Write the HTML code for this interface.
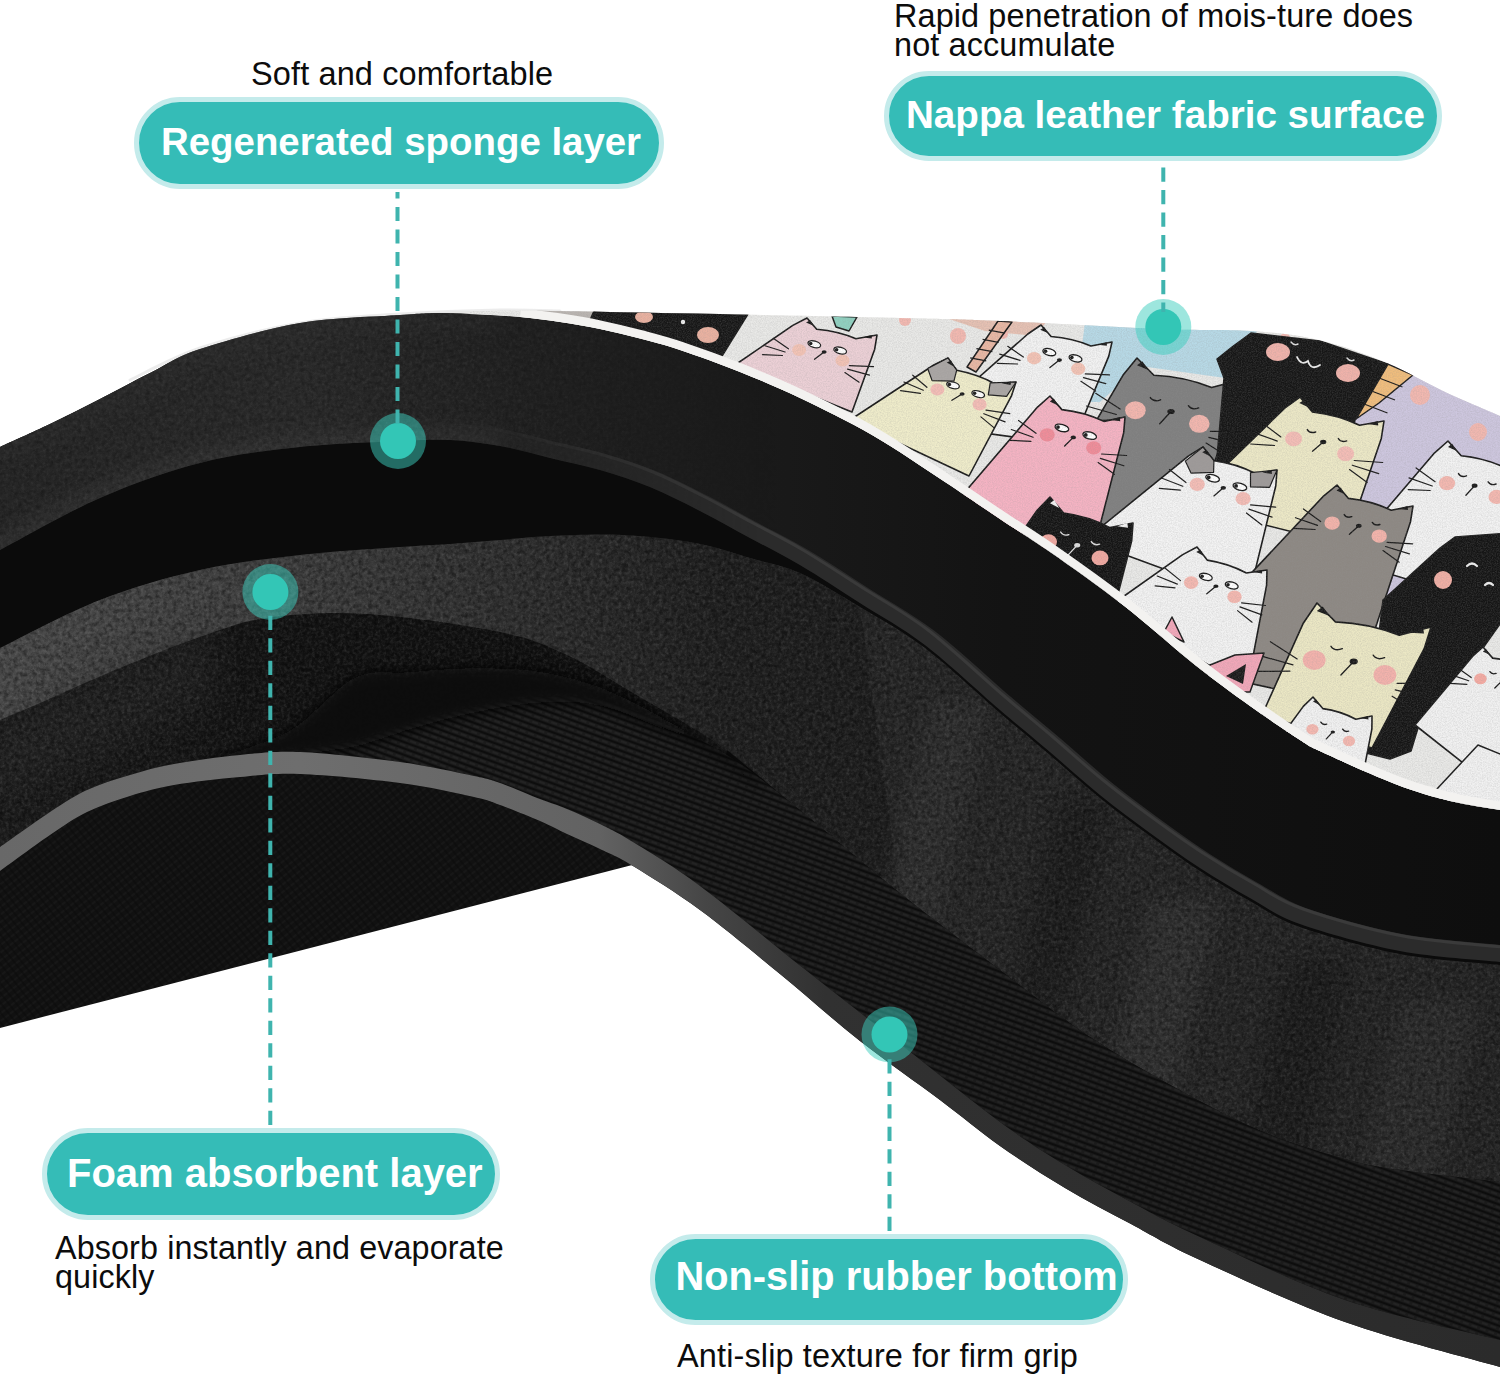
<!DOCTYPE html>
<html lang="en"><head><meta charset="utf-8"><title>Mat layers</title>
<style>
html,body{margin:0;padding:0;background:#fff;}
body{width:1500px;height:1377px;overflow:hidden;position:relative;font-family:"Liberation Sans",sans-serif;}
svg{position:absolute;left:0;top:0;display:block}
.pill{position:absolute;box-sizing:border-box;background:#35bcb7;border:5px solid #c4ebeb;border-radius:60px;color:#fff;font-weight:bold;white-space:nowrap;text-align:center;}
.pill span{position:absolute;left:0;white-space:nowrap}
.cap{position:absolute;color:#0c0c0c;white-space:nowrap;font-size:32.5px;line-height:29px;letter-spacing:0.12px;}
</style></head><body>
<svg width="1500" height="1377" viewBox="0 0 1500 1377">
<defs>

<linearGradient id="gSponge" gradientUnits="userSpaceOnUse" x1="0" y1="0" x2="1500" y2="0">
 <stop offset="0" stop-color="#262626"/><stop offset="0.2" stop-color="#2a2a2a"/><stop offset="0.36" stop-color="#202020"/><stop offset="0.5" stop-color="#1a1a1a"/><stop offset="0.67" stop-color="#131313"/><stop offset="1" stop-color="#0e0e0e"/>
</linearGradient>
<linearGradient id="gFoam" gradientUnits="userSpaceOnUse" x1="0" y1="0" x2="1500" y2="0">
 <stop offset="0" stop-color="#1c1c1c"/><stop offset="0.1" stop-color="#181818"/><stop offset="0.2" stop-color="#131313"/><stop offset="0.43" stop-color="#0f0f0f"/><stop offset="0.5" stop-color="#1f1f1f"/><stop offset="0.6" stop-color="#272727"/><stop offset="1" stop-color="#252525"/>
</linearGradient>
<linearGradient id="gFoamLit" gradientUnits="userSpaceOnUse" x1="0" y1="0" x2="900" y2="0">
 <stop offset="0" stop-color="#4a4a4a"/><stop offset="0.2" stop-color="#444"/><stop offset="0.4" stop-color="#3a3a3a"/><stop offset="0.6" stop-color="#2e2e2e"/><stop offset="0.8" stop-color="#202020"/><stop offset="1" stop-color="#1e1e1e"/>
</linearGradient>
<filter id="fBlur16" x="-30%" y="-30%" width="160%" height="160%"><feGaussianBlur stdDeviation="16"/></filter>
<filter id="fBlur6" x="-10%" y="-30%" width="120%" height="160%"><feGaussianBlur stdDeviation="6"/></filter>
<filter id="fBlur8" x="-20%" y="-20%" width="140%" height="140%"><feGaussianBlur stdDeviation="9"/></filter>
<linearGradient id="gBand" gradientUnits="userSpaceOnUse" x1="0" y1="0" x2="1500" y2="0">
 <stop offset="0" stop-color="#686868"/><stop offset="0.2" stop-color="#6e6e6e"/><stop offset="0.4" stop-color="#626262"/><stop offset="0.47" stop-color="#464646"/><stop offset="0.55" stop-color="#313131"/><stop offset="1" stop-color="#2b2b2b"/>
</linearGradient>
<linearGradient id="gGapFade" gradientUnits="userSpaceOnUse" x1="120" y1="800" x2="330" y2="690">
 <stop offset="0" stop-color="#0c0c0c" stop-opacity="0"/><stop offset="1" stop-color="#0c0c0c" stop-opacity="1"/>
</linearGradient>
<filter id="fFoam" x="0" y="0" width="100%" height="100%" filterUnits="objectBoundingBox">
 <feTurbulence type="fractalNoise" baseFrequency="0.32" numOctaves="3" seed="4" result="n"/>
 <feColorMatrix in="n" type="matrix" values="0 0 0 0 1  0 0 0 0 1  0 0 0 0 1  1.6 0 0 0 -0.62"/>
</filter>
<filter id="fFoamD" x="0" y="0" width="100%" height="100%">
 <feTurbulence type="fractalNoise" baseFrequency="0.22" numOctaves="3" seed="9" result="n"/>
 <feColorMatrix in="n" type="matrix" values="0 0 0 0 0  0 0 0 0 0  0 0 0 0 0  0 1.8 0 0 -0.7"/>
</filter>
<filter id="fGrain" x="0" y="0" width="100%" height="100%">
 <feTurbulence type="fractalNoise" baseFrequency="0.8" numOctaves="2" seed="2" result="n"/>
 <feColorMatrix in="n" type="matrix" values="0 0 0 0 0.3  0 0 0 0 0.3  0 0 0 0 0.3  0 0 0.9 0 -0.3"/>
</filter>
<pattern id="pRib" width="7" height="5" patternUnits="userSpaceOnUse" patternTransform="rotate(-32)">
 <rect width="7" height="5" fill="#1b1b1b"/><path d="M0,1 L7,1" stroke="#060606" stroke-width="1.6"/><path d="M0,3.6 L7,3.6" stroke="#2a2a2a" stroke-width="1"/>
</pattern>
<pattern id="pRib2" width="9" height="6" patternUnits="userSpaceOnUse" patternTransform="rotate(20)">
 <rect width="9" height="6" fill="#1b1b1b"/><path d="M0,1.2 L9,1.2" stroke="#0c0c0c" stroke-width="2"/><path d="M0,4 L6,4" stroke="#282828" stroke-width="1.2"/>
</pattern>
<pattern id="pHatch" width="6" height="6" patternUnits="userSpaceOnUse" patternTransform="rotate(-38)">
 <rect width="6" height="6" fill="#111"/><path d="M0,1 L6,1" stroke="#1b1b1b" stroke-width="1.2"/><path d="M1,0 L1,6" stroke="#0a0a0a" stroke-width="1"/>
</pattern>

<linearGradient id="gFadeR" gradientUnits="userSpaceOnUse" x1="420" y1="0" x2="780" y2="0"><stop offset="0" stop-color="#fff"/><stop offset="1" stop-color="#000"/></linearGradient>
<linearGradient id="gFadeL" gradientUnits="userSpaceOnUse" x1="420" y1="0" x2="760" y2="0"><stop offset="0" stop-color="#000"/><stop offset="1" stop-color="#fff"/></linearGradient>
<mask id="mFadeL" maskUnits="userSpaceOnUse" x="0" y="380" width="1520" height="620"><rect x="0" y="380" width="1520" height="620" fill="url(#gFadeL)"/></mask>
<mask id="mFadeR" maskUnits="userSpaceOnUse" x="0" y="280" width="820" height="320"><rect x="0" y="280" width="820" height="320" fill="url(#gFadeR)"/></mask>
<clipPath id="cpFabric"><path d="M430.0,312.0 C438.3,311.8 458.3,311.2 480.0,311.0 C501.7,310.8 490.0,309.8 560.0,311.0 C630.0,312.2 826.7,316.3 900.0,318.0 C973.3,319.7 956.7,319.2 1000.0,321.0 C1043.3,322.8 1118.2,327.3 1160.0,329.0 C1201.8,330.7 1224.5,329.2 1251.0,331.0 C1277.5,332.8 1296.3,334.7 1319.0,340.0 C1341.7,345.3 1366.3,354.5 1387.0,363.0 C1407.7,371.5 1424.2,382.2 1443.0,391.0 C1461.8,399.8 1488.8,411.0 1500.0,416.0 C1511.2,421.0 1508.3,420.2 1510.0,421.0 L1510.0,811.0 C1508.3,810.8 1510.0,811.7 1500.0,810.0 C1490.0,808.3 1467.5,805.3 1450.0,801.0 C1432.5,796.7 1416.3,792.2 1395.0,784.0 C1373.7,775.8 1337.8,759.3 1322.0,752.0 C1306.2,744.7 1312.0,747.7 1300.0,740.0 C1288.0,732.3 1267.5,718.5 1250.0,706.0 C1232.5,693.5 1216.2,681.8 1195.0,665.0 C1173.8,648.2 1147.2,623.8 1123.0,605.0 C1098.8,586.2 1070.5,566.3 1050.0,552.0 C1029.5,537.7 1017.5,530.7 1000.0,519.0 C982.5,507.3 966.3,496.0 945.0,482.0 C923.7,468.0 896.2,449.0 872.0,435.0 C847.8,421.0 822.0,408.5 800.0,398.0 C778.0,387.5 760.0,380.0 740.0,372.0 C720.0,364.0 696.7,355.6 680.0,350.0 C663.3,344.4 653.3,342.0 640.0,338.5 C626.7,335.0 613.3,331.8 600.0,329.0 C586.7,326.2 573.3,324.0 560.0,322.0 C546.7,320.0 533.3,318.2 520.0,317.0 C506.7,315.8 493.3,315.2 480.0,314.5 C466.7,313.8 446.7,313.2 440.0,313.0 Z"/></clipPath>
<clipPath id="cpFoam"><path d="M-10.0,653.0 C-8.3,652.2 -18.3,656.8 0.0,648.0 C18.3,639.2 66.7,613.0 100.0,600.0 C133.3,587.0 166.7,577.5 200.0,570.0 C233.3,562.5 266.7,558.8 300.0,555.0 C333.3,551.2 375.0,548.8 400.0,547.0 C425.0,545.2 433.3,545.2 450.0,544.0 C466.7,542.8 483.3,541.3 500.0,540.0 C516.7,538.7 529.5,536.8 550.0,536.0 C570.5,535.2 598.8,533.8 623.0,535.0 C647.2,536.2 673.8,539.2 695.0,543.0 C716.2,546.8 732.5,553.0 750.0,558.0 C767.5,563.0 781.7,564.8 800.0,573.0 C818.3,581.2 839.2,594.5 860.0,607.0 C880.8,619.5 901.7,630.3 925.0,648.0 C948.3,665.7 979.2,695.2 1000.0,713.0 C1020.8,730.8 1033.3,740.8 1050.0,755.0 C1066.7,769.2 1083.3,784.5 1100.0,798.0 C1116.7,811.5 1133.3,823.8 1150.0,836.0 C1166.7,848.2 1183.3,860.2 1200.0,871.0 C1216.7,881.8 1233.3,891.7 1250.0,901.0 C1266.7,910.3 1275.0,918.2 1300.0,927.0 C1325.0,935.8 1366.7,947.7 1400.0,954.0 C1433.3,960.3 1481.7,963.0 1500.0,965.0 C1518.3,967.0 1508.3,965.8 1510.0,966.0 L1510.0,966.0 C1508.3,965.8 1518.3,967.0 1500.0,965.0 C1481.7,963.0 1433.3,960.3 1400.0,954.0 C1366.7,947.7 1325.0,935.8 1300.0,927.0 C1275.0,918.2 1266.7,910.3 1250.0,901.0 C1233.3,891.7 1216.7,881.8 1200.0,871.0 C1183.3,860.2 1166.7,848.2 1150.0,836.0 C1133.3,823.8 1116.7,811.5 1100.0,798.0 C1083.3,784.5 1066.7,769.2 1050.0,755.0 C1033.3,740.8 1020.8,730.8 1000.0,713.0 C979.2,695.2 948.3,665.7 925.0,648.0 C901.7,630.3 880.8,619.5 860.0,607.0 C839.2,594.5 818.3,581.2 800.0,573.0 C781.7,564.8 767.5,563.0 750.0,558.0 C732.5,553.0 716.2,546.8 695.0,543.0 C673.8,539.2 647.2,536.2 623.0,535.0 C598.8,533.8 570.5,535.2 550.0,536.0 C529.5,536.8 516.7,538.7 500.0,540.0 C483.3,541.3 466.7,542.8 450.0,544.0 C433.3,545.2 425.0,545.2 400.0,547.0 C375.0,548.8 333.3,551.2 300.0,555.0 C266.7,558.8 233.3,562.5 200.0,570.0 C166.7,577.5 133.3,587.0 100.0,600.0 C66.7,613.0 18.3,639.2 0.0,648.0 C-18.3,656.8 -8.3,652.2 -10.0,653.0 Z"/></clipPath>
</defs>
<path d="M-10.0,870.0 C-8.3,868.8 -10.0,870.2 0.0,863.0 C10.0,855.8 35.5,836.8 50.0,827.0 C64.5,817.2 73.7,810.5 87.0,804.0 C100.3,797.5 115.5,792.5 130.0,788.0 C144.5,783.5 155.7,780.2 174.0,777.0 C192.3,773.8 219.0,770.8 240.0,769.0 C261.0,767.2 273.3,765.0 300.0,766.0 C326.7,767.0 371.0,771.2 400.0,775.0 C429.0,778.8 457.3,785.3 474.0,789.0 C490.7,792.7 489.0,793.0 500.0,797.0 C511.0,801.0 528.8,808.2 540.0,813.0 C551.2,817.8 557.0,821.3 567.0,826.0 C577.0,830.7 589.0,835.7 600.0,841.0 C611.0,846.3 624.7,853.5 633.0,858.0 C641.3,862.5 647.2,866.3 650.0,868.0 L650,874 L640,863 L-10,1030.5 Z" fill="url(#pHatch)"/>
<path d="M-10.0,452.0 C-8.3,451.2 -10.0,451.7 0.0,447.0 C10.0,442.3 33.3,432.0 50.0,424.0 C66.7,416.0 83.3,407.5 100.0,399.0 C116.7,390.5 133.3,381.3 150.0,373.0 C166.7,364.7 175.0,357.3 200.0,349.0 C225.0,340.7 266.7,328.7 300.0,323.0 C333.3,317.3 376.7,316.7 400.0,315.0 C423.3,313.3 426.7,313.1 440.0,313.0 C453.3,312.9 466.7,313.8 480.0,314.5 C493.3,315.2 506.7,315.8 520.0,317.0 C533.3,318.2 546.7,320.0 560.0,322.0 C573.3,324.0 586.7,326.2 600.0,329.0 C613.3,331.8 626.7,335.0 640.0,338.5 C653.3,342.0 663.3,344.4 680.0,350.0 C696.7,355.6 720.0,364.0 740.0,372.0 C760.0,380.0 778.0,387.5 800.0,398.0 C822.0,408.5 847.8,421.0 872.0,435.0 C896.2,449.0 923.7,468.0 945.0,482.0 C966.3,496.0 982.5,507.3 1000.0,519.0 C1017.5,530.7 1029.5,537.7 1050.0,552.0 C1070.5,566.3 1098.8,586.2 1123.0,605.0 C1147.2,623.8 1173.8,648.2 1195.0,665.0 C1216.2,681.8 1232.5,693.5 1250.0,706.0 C1267.5,718.5 1288.0,732.3 1300.0,740.0 C1312.0,747.7 1306.2,744.7 1322.0,752.0 C1337.8,759.3 1373.7,775.8 1395.0,784.0 C1416.3,792.2 1432.5,796.7 1450.0,801.0 C1467.5,805.3 1490.0,808.3 1500.0,810.0 C1510.0,811.7 1508.3,810.8 1510.0,811.0 L1510.0,1370.0 C1508.3,1369.5 1527.5,1375.0 1500.0,1367.0 C1472.5,1359.0 1395.0,1339.8 1345.0,1322.0 C1295.0,1304.2 1235.7,1276.3 1200.0,1260.0 C1164.3,1243.7 1153.5,1236.0 1131.0,1224.0 C1108.5,1212.0 1086.8,1201.0 1065.0,1188.0 C1043.2,1175.0 1020.8,1160.7 1000.0,1146.0 C979.2,1131.3 963.3,1117.5 940.0,1100.0 C916.7,1082.5 886.7,1062.0 860.0,1041.0 C833.3,1020.0 806.7,995.8 780.0,974.0 C753.3,952.2 724.5,928.0 700.0,910.0 C675.5,892.0 649.7,876.2 633.0,866.0 C616.3,855.8 611.0,854.3 600.0,849.0 C589.0,843.7 577.0,838.7 567.0,834.0 C557.0,829.3 551.2,825.8 540.0,821.0 C528.8,816.2 511.0,809.0 500.0,805.0 C489.0,801.0 490.7,800.7 474.0,797.0 C457.3,793.3 429.0,786.8 400.0,783.0 C371.0,779.2 326.7,775.0 300.0,774.0 C273.3,773.0 261.0,775.2 240.0,777.0 C219.0,778.8 192.3,781.8 174.0,785.0 C155.7,788.2 144.5,791.5 130.0,796.0 C115.5,800.5 100.3,805.5 87.0,812.0 C73.7,818.5 64.5,825.2 50.0,835.0 C35.5,844.8 10.0,863.8 0.0,871.0 C-10.0,878.2 -8.3,876.8 -10.0,878.0 Z" fill="#0b0b0b"/>
<path d="M430.0,312.0 C438.3,311.8 458.3,311.2 480.0,311.0 C501.7,310.8 490.0,309.8 560.0,311.0 C630.0,312.2 826.7,316.3 900.0,318.0 C973.3,319.7 956.7,319.2 1000.0,321.0 C1043.3,322.8 1118.2,327.3 1160.0,329.0 C1201.8,330.7 1224.5,329.2 1251.0,331.0 C1277.5,332.8 1296.3,334.7 1319.0,340.0 C1341.7,345.3 1366.3,354.5 1387.0,363.0 C1407.7,371.5 1424.2,382.2 1443.0,391.0 C1461.8,399.8 1488.8,411.0 1500.0,416.0 C1511.2,421.0 1508.3,420.2 1510.0,421.0 L1510.0,811.0 C1508.3,810.8 1510.0,811.7 1500.0,810.0 C1490.0,808.3 1467.5,805.3 1450.0,801.0 C1432.5,796.7 1416.3,792.2 1395.0,784.0 C1373.7,775.8 1337.8,759.3 1322.0,752.0 C1306.2,744.7 1312.0,747.7 1300.0,740.0 C1288.0,732.3 1267.5,718.5 1250.0,706.0 C1232.5,693.5 1216.2,681.8 1195.0,665.0 C1173.8,648.2 1147.2,623.8 1123.0,605.0 C1098.8,586.2 1070.5,566.3 1050.0,552.0 C1029.5,537.7 1017.5,530.7 1000.0,519.0 C982.5,507.3 966.3,496.0 945.0,482.0 C923.7,468.0 896.2,449.0 872.0,435.0 C847.8,421.0 822.0,408.5 800.0,398.0 C778.0,387.5 760.0,380.0 740.0,372.0 C720.0,364.0 696.7,355.6 680.0,350.0 C663.3,344.4 653.3,342.0 640.0,338.5 C626.7,335.0 613.3,331.8 600.0,329.0 C586.7,326.2 573.3,324.0 560.0,322.0 C546.7,320.0 533.3,318.2 520.0,317.0 C506.7,315.8 493.3,315.2 480.0,314.5 C466.7,313.8 446.7,313.2 440.0,313.0 Z" fill="#ecebe9"/>
<path d="M130.0,381.0 C141.7,375.7 171.7,358.5 200.0,349.0 C228.3,339.5 266.7,329.7 300.0,324.0 C333.3,318.3 366.7,317.2 400.0,315.0 C433.3,312.8 473.3,311.5 500.0,311.0 C526.7,310.5 550.0,311.8 560.0,312.0" fill="none" stroke="#e4e4e4" stroke-width="3" stroke-linecap="round" opacity="0.7" transform="translate(0,-1)"/>
<path d="M-10.0,452.0 C-8.3,451.2 -10.0,451.7 0.0,447.0 C10.0,442.3 33.3,432.0 50.0,424.0 C66.7,416.0 83.3,407.5 100.0,399.0 C116.7,390.5 133.3,381.3 150.0,373.0 C166.7,364.7 175.0,357.3 200.0,349.0 C225.0,340.7 266.7,328.7 300.0,323.0 C333.3,317.3 376.7,316.7 400.0,315.0 C423.3,313.3 426.7,313.1 440.0,313.0 C453.3,312.9 466.7,313.8 480.0,314.5 C493.3,315.2 506.7,315.8 520.0,317.0 C533.3,318.2 546.7,320.0 560.0,322.0 C573.3,324.0 586.7,326.2 600.0,329.0 C613.3,331.8 626.7,335.0 640.0,338.5 C653.3,342.0 663.3,344.4 680.0,350.0 C696.7,355.6 720.0,364.0 740.0,372.0 C760.0,380.0 778.0,387.5 800.0,398.0 C822.0,408.5 847.8,421.0 872.0,435.0 C896.2,449.0 923.7,468.0 945.0,482.0 C966.3,496.0 982.5,507.3 1000.0,519.0 C1017.5,530.7 1029.5,537.7 1050.0,552.0 C1070.5,566.3 1098.8,586.2 1123.0,605.0 C1147.2,623.8 1173.8,648.2 1195.0,665.0 C1216.2,681.8 1232.5,693.5 1250.0,706.0 C1267.5,718.5 1288.0,732.3 1300.0,740.0 C1312.0,747.7 1306.2,744.7 1322.0,752.0 C1337.8,759.3 1373.7,775.8 1395.0,784.0 C1416.3,792.2 1432.5,796.7 1450.0,801.0 C1467.5,805.3 1490.0,808.3 1500.0,810.0 C1510.0,811.7 1508.3,810.8 1510.0,811.0 L1510.0,963.0 C1508.3,962.8 1518.3,964.0 1500.0,962.0 C1481.7,960.0 1433.3,957.3 1400.0,951.0 C1366.7,944.7 1325.0,932.8 1300.0,924.0 C1275.0,915.2 1266.7,907.3 1250.0,898.0 C1233.3,888.7 1216.7,878.8 1200.0,868.0 C1183.3,857.2 1166.7,845.2 1150.0,833.0 C1133.3,820.8 1116.7,808.5 1100.0,795.0 C1083.3,781.5 1066.7,766.2 1050.0,752.0 C1033.3,737.8 1020.8,727.8 1000.0,710.0 C979.2,692.2 948.3,662.8 925.0,645.0 C901.7,627.2 880.8,616.3 860.0,603.0 C839.2,589.7 818.3,575.8 800.0,565.0 C781.7,554.2 766.7,547.0 750.0,538.0 C733.3,529.0 716.7,519.5 700.0,511.0 C683.3,502.5 666.7,493.8 650.0,487.0 C633.3,480.2 616.7,474.8 600.0,470.0 C583.3,465.2 566.7,462.0 550.0,458.0 C533.3,454.0 516.7,449.0 500.0,446.0 C483.3,443.0 466.7,440.8 450.0,440.0 C433.3,439.2 425.0,439.8 400.0,441.0 C375.0,442.2 333.3,443.3 300.0,447.0 C266.7,450.7 233.3,454.5 200.0,463.0 C166.7,471.5 133.3,483.5 100.0,498.0 C66.7,512.5 18.3,540.5 0.0,550.0 C-18.3,559.5 -8.3,554.2 -10.0,555.0 Z" fill="url(#gSponge)"/>
<clipPath id="cpSponge"><path d="M-10.0,452.0 C-8.3,451.2 -10.0,451.7 0.0,447.0 C10.0,442.3 33.3,432.0 50.0,424.0 C66.7,416.0 83.3,407.5 100.0,399.0 C116.7,390.5 133.3,381.3 150.0,373.0 C166.7,364.7 175.0,357.3 200.0,349.0 C225.0,340.7 266.7,328.7 300.0,323.0 C333.3,317.3 376.7,316.7 400.0,315.0 C423.3,313.3 426.7,313.1 440.0,313.0 C453.3,312.9 466.7,313.8 480.0,314.5 C493.3,315.2 506.7,315.8 520.0,317.0 C533.3,318.2 546.7,320.0 560.0,322.0 C573.3,324.0 586.7,326.2 600.0,329.0 C613.3,331.8 626.7,335.0 640.0,338.5 C653.3,342.0 663.3,344.4 680.0,350.0 C696.7,355.6 720.0,364.0 740.0,372.0 C760.0,380.0 778.0,387.5 800.0,398.0 C822.0,408.5 847.8,421.0 872.0,435.0 C896.2,449.0 923.7,468.0 945.0,482.0 C966.3,496.0 982.5,507.3 1000.0,519.0 C1017.5,530.7 1029.5,537.7 1050.0,552.0 C1070.5,566.3 1098.8,586.2 1123.0,605.0 C1147.2,623.8 1173.8,648.2 1195.0,665.0 C1216.2,681.8 1232.5,693.5 1250.0,706.0 C1267.5,718.5 1288.0,732.3 1300.0,740.0 C1312.0,747.7 1306.2,744.7 1322.0,752.0 C1337.8,759.3 1373.7,775.8 1395.0,784.0 C1416.3,792.2 1432.5,796.7 1450.0,801.0 C1467.5,805.3 1490.0,808.3 1500.0,810.0 C1510.0,811.7 1508.3,810.8 1510.0,811.0 L1510.0,963.0 C1508.3,962.8 1518.3,964.0 1500.0,962.0 C1481.7,960.0 1433.3,957.3 1400.0,951.0 C1366.7,944.7 1325.0,932.8 1300.0,924.0 C1275.0,915.2 1266.7,907.3 1250.0,898.0 C1233.3,888.7 1216.7,878.8 1200.0,868.0 C1183.3,857.2 1166.7,845.2 1150.0,833.0 C1133.3,820.8 1116.7,808.5 1100.0,795.0 C1083.3,781.5 1066.7,766.2 1050.0,752.0 C1033.3,737.8 1020.8,727.8 1000.0,710.0 C979.2,692.2 948.3,662.8 925.0,645.0 C901.7,627.2 880.8,616.3 860.0,603.0 C839.2,589.7 818.3,575.8 800.0,565.0 C781.7,554.2 766.7,547.0 750.0,538.0 C733.3,529.0 716.7,519.5 700.0,511.0 C683.3,502.5 666.7,493.8 650.0,487.0 C633.3,480.2 616.7,474.8 600.0,470.0 C583.3,465.2 566.7,462.0 550.0,458.0 C533.3,454.0 516.7,449.0 500.0,446.0 C483.3,443.0 466.7,440.8 450.0,440.0 C433.3,439.2 425.0,439.8 400.0,441.0 C375.0,442.2 333.3,443.3 300.0,447.0 C266.7,450.7 233.3,454.5 200.0,463.0 C166.7,471.5 133.3,483.5 100.0,498.0 C66.7,512.5 18.3,540.5 0.0,550.0 C-18.3,559.5 -8.3,554.2 -10.0,555.0 Z"/></clipPath>
<g clip-path="url(#cpSponge)"><path d="M-10.0,555.0 C-8.3,554.2 -18.3,559.5 0.0,550.0 C18.3,540.5 66.7,512.5 100.0,498.0 C133.3,483.5 166.7,471.5 200.0,463.0 C233.3,454.5 266.7,450.7 300.0,447.0 C333.3,443.3 375.0,442.2 400.0,441.0 C425.0,439.8 433.3,439.2 450.0,440.0 C466.7,440.8 491.7,445.0 500.0,446.0" fill="none" stroke="#3c3c3c" stroke-width="24" filter="url(#fBlur8)" opacity="0.5"/>
<path d="M-10.0,452.0 C-8.3,451.2 -10.0,451.7 0.0,447.0 C10.0,442.3 33.3,432.0 50.0,424.0 C66.7,416.0 83.3,407.5 100.0,399.0 C116.7,390.5 133.3,381.3 150.0,373.0 C166.7,364.7 175.0,357.3 200.0,349.0 C225.0,340.7 266.7,328.7 300.0,323.0 C333.3,317.3 366.7,317.0 400.0,315.0 C433.3,313.0 483.3,311.7 500.0,311.0" fill="none" stroke="#333" stroke-width="40" filter="url(#fBlur8)" opacity="0.35"/>
<g mask="url(#mFadeR)"><rect x="0" y="300" width="800" height="270" filter="url(#fFoam)" opacity="0.07"/><rect x="0" y="300" width="800" height="270" filter="url(#fFoamD)" opacity="0.3"/></g></g>
<g clip-path="url(#cpSponge)" mask="url(#mFadeL)"><path d="M400.0,441.0 C408.3,440.8 433.3,439.2 450.0,440.0 C466.7,440.8 483.3,443.0 500.0,446.0 C516.7,449.0 533.3,454.0 550.0,458.0 C566.7,462.0 583.3,465.2 600.0,470.0 C616.7,474.8 633.3,480.2 650.0,487.0 C666.7,493.8 683.3,502.5 700.0,511.0 C716.7,519.5 733.3,529.0 750.0,538.0 C766.7,547.0 781.7,554.2 800.0,565.0 C818.3,575.8 839.2,589.7 860.0,603.0 C880.8,616.3 901.7,627.2 925.0,645.0 C948.3,662.8 979.2,692.2 1000.0,710.0 C1020.8,727.8 1033.3,737.8 1050.0,752.0 C1066.7,766.2 1083.3,781.5 1100.0,795.0 C1116.7,808.5 1133.3,820.8 1150.0,833.0 C1166.7,845.2 1183.3,857.2 1200.0,868.0 C1216.7,878.8 1233.3,888.7 1250.0,898.0 C1266.7,907.3 1275.0,915.2 1300.0,924.0 C1325.0,932.8 1366.7,944.7 1400.0,951.0 C1433.3,957.3 1481.7,960.0 1500.0,962.0 C1518.3,964.0 1508.3,962.8 1510.0,963.0" fill="none" stroke="#2b2b2b" stroke-width="34"/><path d="M400.0,441.0 C408.3,440.8 433.3,439.2 450.0,440.0 C466.7,440.8 483.3,443.0 500.0,446.0 C516.7,449.0 533.3,454.0 550.0,458.0 C566.7,462.0 583.3,465.2 600.0,470.0 C616.7,474.8 633.3,480.2 650.0,487.0 C666.7,493.8 683.3,502.5 700.0,511.0 C716.7,519.5 733.3,529.0 750.0,538.0 C766.7,547.0 781.7,554.2 800.0,565.0 C818.3,575.8 839.2,589.7 860.0,603.0 C880.8,616.3 901.7,627.2 925.0,645.0 C948.3,662.8 979.2,692.2 1000.0,710.0 C1020.8,727.8 1033.3,737.8 1050.0,752.0 C1066.7,766.2 1083.3,781.5 1100.0,795.0 C1116.7,808.5 1133.3,820.8 1150.0,833.0 C1166.7,845.2 1183.3,857.2 1200.0,868.0 C1216.7,878.8 1233.3,888.7 1250.0,898.0 C1266.7,907.3 1275.0,915.2 1300.0,924.0 C1325.0,932.8 1366.7,944.7 1400.0,951.0 C1433.3,957.3 1481.7,960.0 1500.0,962.0 C1518.3,964.0 1508.3,962.8 1510.0,963.0" fill="none" stroke="#3a3a3a" stroke-width="3" transform="translate(3,-15)"/></g>
<clipPath id="cpBody"><path d="M-10.0,726.0 C-8.3,725.0 -8.3,723.8 0.0,720.0 C8.3,716.2 20.0,711.7 40.0,703.0 C60.0,694.3 93.3,679.0 120.0,668.0 C146.7,657.0 175.5,645.3 200.0,637.0 C224.5,628.7 239.2,621.8 267.0,618.0 C294.8,614.2 328.2,611.7 367.0,614.0 C405.8,616.3 466.7,625.2 500.0,632.0 C533.3,638.8 544.8,644.8 567.0,655.0 C589.2,665.2 606.3,677.2 633.0,693.0 C659.7,708.8 699.2,730.5 727.0,750.0 C754.8,769.5 771.2,786.2 800.0,810.0 C828.8,833.8 883.3,879.2 900.0,893.0 L913.0,1054.0 C895.3,1040.2 842.5,999.0 807.0,971.0 C771.5,943.0 729.0,907.5 700.0,886.0 C671.0,864.5 649.7,852.3 633.0,842.0 C616.3,831.7 611.0,829.5 600.0,824.0 C589.0,818.5 577.0,813.2 567.0,809.0 C557.0,804.8 551.2,803.3 540.0,799.0 C528.8,794.7 511.0,786.8 500.0,783.0 C489.0,779.2 490.7,779.5 474.0,776.0 C457.3,772.5 429.0,766.0 400.0,762.0 C371.0,758.0 326.7,753.2 300.0,752.0 C273.3,750.8 261.0,753.0 240.0,755.0 C219.0,757.0 192.3,760.7 174.0,764.0 C155.7,767.3 144.5,770.7 130.0,775.0 C115.5,779.3 100.3,783.8 87.0,790.0 C73.7,796.2 64.5,802.5 50.0,812.0 C35.5,821.5 10.0,840.0 0.0,847.0 C-10.0,854.0 -8.3,852.8 -10.0,854.0 Z"/></clipPath>
<path id="foamShape" d="M-10.0,653.0 C-8.3,652.2 -18.3,656.8 0.0,648.0 C18.3,639.2 66.7,613.0 100.0,600.0 C133.3,587.0 166.7,577.5 200.0,570.0 C233.3,562.5 266.7,558.8 300.0,555.0 C333.3,551.2 375.0,548.8 400.0,547.0 C425.0,545.2 433.3,545.2 450.0,544.0 C466.7,542.8 483.3,541.3 500.0,540.0 C516.7,538.7 529.5,536.8 550.0,536.0 C570.5,535.2 598.8,533.8 623.0,535.0 C647.2,536.2 673.8,539.2 695.0,543.0 C716.2,546.8 732.5,553.0 750.0,558.0 C767.5,563.0 781.7,564.8 800.0,573.0 C818.3,581.2 839.2,594.5 860.0,607.0 C880.8,619.5 901.7,630.3 925.0,648.0 C948.3,665.7 979.2,695.2 1000.0,713.0 C1020.8,730.8 1033.3,740.8 1050.0,755.0 C1066.7,769.2 1083.3,784.5 1100.0,798.0 C1116.7,811.5 1133.3,823.8 1150.0,836.0 C1166.7,848.2 1183.3,860.2 1200.0,871.0 C1216.7,881.8 1233.3,891.7 1250.0,901.0 C1266.7,910.3 1275.0,918.2 1300.0,927.0 C1325.0,935.8 1366.7,947.7 1400.0,954.0 C1433.3,960.3 1481.7,963.0 1500.0,965.0 C1518.3,967.0 1508.3,965.8 1510.0,966.0 L1510.0,1183.0 C1508.3,1182.8 1518.3,1184.2 1500.0,1182.0 C1481.7,1179.8 1425.8,1173.8 1400.0,1170.0 C1374.2,1166.2 1368.2,1165.5 1345.0,1159.0 C1321.8,1152.5 1289.5,1143.0 1261.0,1131.0 C1232.5,1119.0 1203.0,1103.0 1174.0,1087.0 C1145.0,1071.0 1116.0,1054.5 1087.0,1035.0 C1058.0,1015.5 1031.2,993.7 1000.0,970.0 C968.8,946.3 933.3,919.7 900.0,893.0 C866.7,866.3 828.8,833.8 800.0,810.0 C771.2,786.2 739.2,760.0 727.0,750.0 L700,886 C688.8,878.7 649.7,852.3 633.0,842.0 C616.3,831.7 611.0,829.5 600.0,824.0 C589.0,818.5 577.0,813.2 567.0,809.0 C557.0,804.8 551.2,803.3 540.0,799.0 C528.8,794.7 511.0,786.8 500.0,783.0 C489.0,779.2 490.7,779.5 474.0,776.0 C457.3,772.5 429.0,766.0 400.0,762.0 C371.0,758.0 326.7,753.2 300.0,752.0 C273.3,750.8 261.0,753.0 240.0,755.0 C219.0,757.0 192.3,760.7 174.0,764.0 C155.7,767.3 144.5,770.7 130.0,775.0 C115.5,779.3 100.3,783.8 87.0,790.0 C73.7,796.2 64.5,802.5 50.0,812.0 C35.5,821.5 10.0,840.0 0.0,847.0 C-10.0,854.0 -8.3,852.8 -10.0,854.0 Z" fill="url(#gFoam)"/>
<clipPath id="cpFoam2"><path d="M-10.0,653.0 C-8.3,652.2 -18.3,656.8 0.0,648.0 C18.3,639.2 66.7,613.0 100.0,600.0 C133.3,587.0 166.7,577.5 200.0,570.0 C233.3,562.5 266.7,558.8 300.0,555.0 C333.3,551.2 375.0,548.8 400.0,547.0 C425.0,545.2 433.3,545.2 450.0,544.0 C466.7,542.8 483.3,541.3 500.0,540.0 C516.7,538.7 529.5,536.8 550.0,536.0 C570.5,535.2 598.8,533.8 623.0,535.0 C647.2,536.2 673.8,539.2 695.0,543.0 C716.2,546.8 732.5,553.0 750.0,558.0 C767.5,563.0 781.7,564.8 800.0,573.0 C818.3,581.2 839.2,594.5 860.0,607.0 C880.8,619.5 901.7,630.3 925.0,648.0 C948.3,665.7 979.2,695.2 1000.0,713.0 C1020.8,730.8 1033.3,740.8 1050.0,755.0 C1066.7,769.2 1083.3,784.5 1100.0,798.0 C1116.7,811.5 1133.3,823.8 1150.0,836.0 C1166.7,848.2 1183.3,860.2 1200.0,871.0 C1216.7,881.8 1233.3,891.7 1250.0,901.0 C1266.7,910.3 1275.0,918.2 1300.0,927.0 C1325.0,935.8 1366.7,947.7 1400.0,954.0 C1433.3,960.3 1481.7,963.0 1500.0,965.0 C1518.3,967.0 1508.3,965.8 1510.0,966.0 L1510.0,1183.0 C1508.3,1182.8 1518.3,1184.2 1500.0,1182.0 C1481.7,1179.8 1425.8,1173.8 1400.0,1170.0 C1374.2,1166.2 1368.2,1165.5 1345.0,1159.0 C1321.8,1152.5 1289.5,1143.0 1261.0,1131.0 C1232.5,1119.0 1203.0,1103.0 1174.0,1087.0 C1145.0,1071.0 1116.0,1054.5 1087.0,1035.0 C1058.0,1015.5 1031.2,993.7 1000.0,970.0 C968.8,946.3 933.3,919.7 900.0,893.0 C866.7,866.3 828.8,833.8 800.0,810.0 C771.2,786.2 739.2,760.0 727.0,750.0 L700,886 C688.8,878.7 649.7,852.3 633.0,842.0 C616.3,831.7 611.0,829.5 600.0,824.0 C589.0,818.5 577.0,813.2 567.0,809.0 C557.0,804.8 551.2,803.3 540.0,799.0 C528.8,794.7 511.0,786.8 500.0,783.0 C489.0,779.2 490.7,779.5 474.0,776.0 C457.3,772.5 429.0,766.0 400.0,762.0 C371.0,758.0 326.7,753.2 300.0,752.0 C273.3,750.8 261.0,753.0 240.0,755.0 C219.0,757.0 192.3,760.7 174.0,764.0 C155.7,767.3 144.5,770.7 130.0,775.0 C115.5,779.3 100.3,783.8 87.0,790.0 C73.7,796.2 64.5,802.5 50.0,812.0 C35.5,821.5 10.0,840.0 0.0,847.0 C-10.0,854.0 -8.3,852.8 -10.0,854.0 Z"/></clipPath>
<path d="M-10.0,653.0 C-8.3,652.2 -18.3,656.8 0.0,648.0 C18.3,639.2 66.7,613.0 100.0,600.0 C133.3,587.0 166.7,577.5 200.0,570.0 C233.3,562.5 266.7,558.8 300.0,555.0 C333.3,551.2 375.0,548.8 400.0,547.0 C425.0,545.2 433.3,545.2 450.0,544.0 C466.7,542.8 483.3,541.3 500.0,540.0 C516.7,538.7 529.5,536.8 550.0,536.0 C570.5,535.2 598.8,533.8 623.0,535.0 C647.2,536.2 673.8,539.2 695.0,543.0 C716.2,546.8 732.5,553.0 750.0,558.0 C767.5,563.0 781.7,564.8 800.0,573.0 C818.3,581.2 850.0,601.3 860.0,607.0 L900.0,893.0 C883.3,879.2 828.8,833.8 800.0,810.0 C771.2,786.2 754.8,769.5 727.0,750.0 C699.2,730.5 659.7,708.8 633.0,693.0 C606.3,677.2 589.2,665.2 567.0,655.0 C544.8,644.8 533.3,638.8 500.0,632.0 C466.7,625.2 405.8,616.3 367.0,614.0 C328.2,611.7 294.8,614.2 267.0,618.0 C239.2,621.8 224.5,628.7 200.0,637.0 C175.5,645.3 146.7,657.0 120.0,668.0 C93.3,679.0 60.0,694.3 40.0,703.0 C20.0,711.7 8.3,716.2 0.0,720.0 C-8.3,723.8 -8.3,725.0 -10.0,726.0 Z" fill="url(#gFoamLit)"/>
<g clip-path="url(#cpFoam2)"><path d="M-10,735 C60,690 140,650 215,628 L215,700 L-10,800 Z" fill="#2a2a2a" opacity="0.5" filter="url(#fBlur16)"/></g>
<g clip-path="url(#cpFoam2)" filter="url(#fBlur8)" opacity="0.5">
<path d="M930,700 l60,0 l-60,260 l-60,0 Z" fill="#383838"/>
<path d="M1060,800 l50,0 l-60,260 l-50,0 Z" fill="#141414"/>
<path d="M1150,900 l70,0 l-60,260 l-70,0 Z" fill="#3a3a3a"/>
<path d="M1290,960 l60,0 l-60,260 l-60,0 Z" fill="#161616"/>
<path d="M1400,1000 l80,0 l-60,260 l-80,0 Z" fill="#363636"/>
</g>
<g clip-path="url(#cpFoam2)"><rect x="0" y="520" width="1500" height="680" filter="url(#fFoam)" opacity="0.13"/><rect x="0" y="520" width="1500" height="680" filter="url(#fFoamD)" opacity="0.5"/></g>
<path d="M230.0,764.0 L277,752 C289.8,750.2 332.0,745.7 354.0,741.0 C376.0,736.3 389.0,729.7 409.0,724.0 C429.0,718.3 452.2,711.5 474.0,707.0 C495.8,702.5 519.0,698.2 540.0,697.0 C561.0,695.8 580.0,695.8 600.0,700.0 C620.0,704.2 638.8,712.8 660.0,722.0 C681.2,731.2 703.7,740.3 727.0,755.0 C750.3,769.7 771.2,787.0 800.0,810.0 C828.8,833.0 866.7,866.3 900.0,893.0 C933.3,919.7 968.8,946.3 1000.0,970.0 C1031.2,993.7 1058.0,1015.5 1087.0,1035.0 C1116.0,1054.5 1145.0,1071.0 1174.0,1087.0 C1203.0,1103.0 1232.5,1119.0 1261.0,1131.0 C1289.5,1143.0 1321.8,1152.5 1345.0,1159.0 C1368.2,1165.5 1374.2,1166.2 1400.0,1170.0 C1425.8,1173.8 1481.7,1179.8 1500.0,1182.0 C1518.3,1184.2 1508.3,1182.8 1510.0,1183.0 L1510.0,1342.0 C1508.3,1341.7 1527.5,1347.0 1500.0,1340.0 C1472.5,1333.0 1395.0,1317.2 1345.0,1300.0 C1295.0,1282.8 1235.7,1253.3 1200.0,1237.0 C1164.3,1220.7 1153.5,1214.0 1131.0,1202.0 C1108.5,1190.0 1086.8,1178.3 1065.0,1165.0 C1043.2,1151.7 1025.3,1140.5 1000.0,1122.0 C974.7,1103.5 945.2,1079.2 913.0,1054.0 C880.8,1028.8 842.5,999.0 807.0,971.0 C771.5,943.0 729.0,907.5 700.0,886.0 C671.0,864.5 649.7,852.3 633.0,842.0 C616.3,831.7 611.0,829.5 600.0,824.0 C589.0,818.5 577.0,813.2 567.0,809.0 C557.0,804.8 551.2,803.3 540.0,799.0 C528.8,794.7 511.0,786.8 500.0,783.0 C489.0,779.2 490.7,779.5 474.0,776.0 C457.3,772.5 429.0,766.0 400.0,762.0 C371.0,758.0 326.7,753.2 300.0,752.0 C273.3,750.8 250.0,754.5 240.0,755.0 Z" fill="url(#pRib2)"/>
<path d="M150.0,800.0 C160.8,793.3 191.7,771.7 215.0,760.0 C238.3,748.3 266.8,743.7 290.0,730.0 C313.2,716.3 334.2,687.5 354.0,677.8 C373.8,668.1 389.0,673.5 409.0,671.8 C429.0,670.2 452.2,667.8 474.0,667.7 C495.8,667.7 519.0,668.2 540.0,671.4 C561.0,674.6 580.0,679.6 600.0,687.0 C620.0,694.4 643.3,707.2 660.0,715.7 C676.7,724.2 683.3,726.9 700.0,738.0 C716.7,749.1 750.0,774.7 760.0,782.0 L760.0,786.0 C750.0,779.2 716.7,754.7 700.0,745.0 C683.3,735.3 676.7,734.5 660.0,728.0 C643.3,721.5 620.0,710.2 600.0,706.0 C580.0,701.8 561.0,701.8 540.0,703.0 C519.0,704.2 495.8,708.5 474.0,713.0 C452.2,717.5 429.0,724.3 409.0,730.0 C389.0,735.7 376.0,742.3 354.0,747.0 C332.0,751.7 297.7,753.8 277.0,758.0 C256.3,762.2 251.2,763.0 230.0,772.0 C208.8,781.0 163.3,805.3 150.0,812.0 Z" fill="#070707" filter="url(#fBlur6)" opacity="0.95" clip-path="url(#cpBody)"/>
<path d="M-10.0,854.0 C-8.3,852.8 -10.0,854.0 0.0,847.0 C10.0,840.0 35.5,821.5 50.0,812.0 C64.5,802.5 73.7,796.2 87.0,790.0 C100.3,783.8 115.5,779.3 130.0,775.0 C144.5,770.7 155.7,767.3 174.0,764.0 C192.3,760.7 219.0,757.0 240.0,755.0 C261.0,753.0 273.3,750.8 300.0,752.0 C326.7,753.2 371.0,758.0 400.0,762.0 C429.0,766.0 457.3,772.5 474.0,776.0 C490.7,779.5 489.0,779.2 500.0,783.0 C511.0,786.8 528.8,794.7 540.0,799.0 C551.2,803.3 557.0,804.8 567.0,809.0 C577.0,813.2 589.0,818.5 600.0,824.0 C611.0,829.5 616.3,831.7 633.0,842.0 C649.7,852.3 671.0,864.5 700.0,886.0 C729.0,907.5 771.5,943.0 807.0,971.0 C842.5,999.0 880.8,1028.8 913.0,1054.0 C945.2,1079.2 974.7,1103.5 1000.0,1122.0 C1025.3,1140.5 1043.2,1151.7 1065.0,1165.0 C1086.8,1178.3 1108.5,1190.0 1131.0,1202.0 C1153.5,1214.0 1164.3,1220.7 1200.0,1237.0 C1235.7,1253.3 1295.0,1282.8 1345.0,1300.0 C1395.0,1317.2 1472.5,1333.0 1500.0,1340.0 C1527.5,1347.0 1508.3,1341.7 1510.0,1342.0 L1510.0,1370.0 C1508.3,1369.5 1527.5,1375.0 1500.0,1367.0 C1472.5,1359.0 1395.0,1339.8 1345.0,1322.0 C1295.0,1304.2 1235.7,1276.3 1200.0,1260.0 C1164.3,1243.7 1153.5,1236.0 1131.0,1224.0 C1108.5,1212.0 1086.8,1201.0 1065.0,1188.0 C1043.2,1175.0 1020.8,1160.7 1000.0,1146.0 C979.2,1131.3 963.3,1117.5 940.0,1100.0 C916.7,1082.5 886.7,1062.0 860.0,1041.0 C833.3,1020.0 806.7,995.8 780.0,974.0 C753.3,952.2 724.5,928.0 700.0,910.0 C675.5,892.0 649.7,876.2 633.0,866.0 C616.3,855.8 611.0,854.3 600.0,849.0 C589.0,843.7 577.0,838.7 567.0,834.0 C557.0,829.3 551.2,825.8 540.0,821.0 C528.8,816.2 511.0,809.0 500.0,805.0 C489.0,801.0 490.7,800.7 474.0,797.0 C457.3,793.3 429.0,786.8 400.0,783.0 C371.0,779.2 326.7,775.0 300.0,774.0 C273.3,773.0 261.0,775.2 240.0,777.0 C219.0,778.8 192.3,781.8 174.0,785.0 C155.7,788.2 144.5,791.5 130.0,796.0 C115.5,800.5 100.3,805.5 87.0,812.0 C73.7,818.5 64.5,825.2 50.0,835.0 C35.5,844.8 10.0,863.8 0.0,871.0 C-10.0,878.2 -8.3,876.8 -10.0,878.0 Z" fill="url(#gBand)"/>
<g clip-path="url(#cpFabric)">
<rect x="470" y="300" width="1040" height="520" fill="#e9e9e7"/>
<path d="M1085.0,322.0 L1258.0,330.0 L1225.0,378.0 L1140.0,366.0 L1100.0,402.0 L1075.0,402.0 Z" fill="#b7d9e6" stroke="none" stroke-width="1.5" stroke-linejoin="round"/>
<path d="M1352.0,420.0 L1387.0,362.0 L1510.0,416.0 L1510.0,610.0 L1340.0,610.0 L1340.0,480.0 Z" fill="#cdc6de" stroke="none" stroke-width="1.5" stroke-linejoin="round"/>
<path d="M940.0,316.0 L1048.0,320.0 L1035.0,336.0 L985.0,331.0 Z" fill="#e6c1b3" stroke="none" stroke-width="1.5" stroke-linejoin="round"/>
<path d="M536.0,308.0 L596.0,310.0 L590.0,320.0 L540.0,316.0 Z" fill="#b9b4b0" stroke="none" stroke-width="1.5" stroke-linejoin="round"/>
<circle cx="958.0" cy="336.0" r="8.0" fill="#f2b8b0"/>
<circle cx="1003.0" cy="334.0" r="5.0" fill="#f2b8b0"/>
<circle cx="1420.0" cy="395.0" r="10.0" fill="#f2b8b0"/>
<circle cx="1478.0" cy="432.0" r="9.0" fill="#f2b8b0"/>
<circle cx="905.0" cy="320.0" r="6.0" fill="#f2b8b0"/>
<circle cx="1285.0" cy="338.0" r="5.0" fill="#f2b8b0"/>
<path d="M594.0,311.0 L748.0,314.0 L722.0,356.0 L660.0,338.0 L590.0,320.0 Z" fill="#161616" stroke="#1a1a1a" stroke-width="1.5" stroke-linejoin="round"/>
<ellipse cx="644" cy="317" rx="9" ry="6" fill="#eab1a0"/><ellipse cx="708" cy="335" rx="11" ry="8" fill="#eab1a0"/>
<circle cx="683.0" cy="322.0" r="2.2" fill="#eee"/>
<path d="M832.0,316.0 L857.0,317.0 L849.0,331.0 L836.0,327.0 Z" fill="#8fd1c0" stroke="#1a1a1a" stroke-width="1.5" stroke-linejoin="round"/>
<path d="M735.0,365.0 L792.8,325.4 L807.0,318.0 L816.7,329.2 Q838.5,331.1 855.9,338.7 L877.0,335.0 L874.7,349.2 L852.0,412.0 Z" fill="#ecd0d6" stroke="#1a1a1a" stroke-width="1.6" stroke-linejoin="round"/>
<path d="M806.0,322.5 L810.3,320.2 L813.6,325.7 Z" fill="#1a1a1a"/>
<path d="M871.8,338.5 L871.9,335.1 L862.6,337.6 Z" fill="#1a1a1a"/>
<ellipse cx="799.1" cy="350.0" rx="7.0" ry="6.1" fill="#f3c3b5"/>
<ellipse cx="842.5" cy="360.5" rx="7.0" ry="6.1" fill="#f3c3b5"/>
<ellipse cx="814.3" cy="344.2" rx="6.5" ry="3.2" fill="#fff" stroke="#1a1a1a" stroke-width="1.3" transform="rotate(15 814.3 344.2)"/>
<circle cx="810.7" cy="343.5" r="1.8" fill="#1a1a1a"/>
<ellipse cx="840.2" cy="350.5" rx="6.5" ry="3.2" fill="#fff" stroke="#1a1a1a" stroke-width="1.3" transform="rotate(15 840.2 350.5)"/>
<circle cx="836.6" cy="349.8" r="1.8" fill="#1a1a1a"/>
<ellipse cx="824.1" cy="352.0" rx="2.5" ry="1.8" fill="#1a1a1a"/>
<path d="M824.1,352.0 L814.5,359.2" stroke="#1a1a1a" stroke-width="1.3" stroke-linecap="round"/>
<path d="M788.4,348.8 L773.2,338.3" stroke="#1a1a1a" stroke-width="1.2" stroke-linecap="round"/>
<path d="M785.1,352.0 L765.0,345.8" stroke="#1a1a1a" stroke-width="1.2" stroke-linecap="round"/>
<path d="M782.5,355.5 L762.4,354.6" stroke="#1a1a1a" stroke-width="1.2" stroke-linecap="round"/>
<path d="M849.4,365.6 L873.5,366.7" stroke="#1a1a1a" stroke-width="1.2" stroke-linecap="round"/>
<path d="M847.5,369.2 L869.5,375.2" stroke="#1a1a1a" stroke-width="1.2" stroke-linecap="round"/>
<path d="M844.9,372.6 L859.1,382.2" stroke="#1a1a1a" stroke-width="1.2" stroke-linecap="round"/>
<path d="M998.0,321.0 L1012.0,322.0 L976.0,372.0 L967.0,367.0 Z" fill="#e9b7a3" stroke="#1a1a1a" stroke-width="1.5" stroke-linejoin="round"/>
<path d="M988.8,330.2 l16,3" stroke="#1a1a1a" stroke-width="1.2"/>
<path d="M982.6,339.4 l16,3" stroke="#1a1a1a" stroke-width="1.2"/>
<path d="M976.4,348.6 l16,3" stroke="#1a1a1a" stroke-width="1.2"/>
<path d="M970.2,357.8 l16,3" stroke="#1a1a1a" stroke-width="1.2"/>
<path d="M925.0,425.0 L1027.8,334.0 L1041.0,325.0 L1051.1,336.5 Q1073.1,338.3 1090.9,346.0 L1112.0,342.0 L1108.8,356.1 L1072.0,445.0 Z" fill="#f2f2f2" stroke="#1a1a1a" stroke-width="1.6" stroke-linejoin="round"/>
<path d="M1040.2,329.7 L1044.4,327.2 L1047.9,332.9 Z" fill="#1a1a1a"/>
<path d="M1106.9,345.7 L1106.9,342.2 L1097.6,344.8 Z" fill="#1a1a1a"/>
<ellipse cx="1034.1" cy="358.2" rx="7.1" ry="6.2" fill="#f3c3b5"/>
<ellipse cx="1078.2" cy="368.8" rx="7.1" ry="6.2" fill="#f3c3b5"/>
<ellipse cx="1049.3" cy="352.1" rx="6.6" ry="3.3" fill="#fff" stroke="#1a1a1a" stroke-width="1.3" transform="rotate(15 1049.3 352.1)"/>
<circle cx="1045.6" cy="351.3" r="1.8" fill="#1a1a1a"/>
<ellipse cx="1075.5" cy="358.4" rx="6.6" ry="3.3" fill="#fff" stroke="#1a1a1a" stroke-width="1.3" transform="rotate(15 1075.5 358.4)"/>
<circle cx="1071.9" cy="357.6" r="1.8" fill="#1a1a1a"/>
<ellipse cx="1059.4" cy="360.1" rx="2.6" ry="1.8" fill="#1a1a1a"/>
<path d="M1059.4,360.1 L1049.9,367.6" stroke="#1a1a1a" stroke-width="1.3" stroke-linecap="round"/>
<path d="M1023.4,357.0 L1007.7,346.3" stroke="#1a1a1a" stroke-width="1.2" stroke-linecap="round"/>
<path d="M1020.1,360.4 L999.7,354.1" stroke="#1a1a1a" stroke-width="1.2" stroke-linecap="round"/>
<path d="M1017.6,364.0 L997.3,363.3" stroke="#1a1a1a" stroke-width="1.2" stroke-linecap="round"/>
<path d="M1085.3,373.9 L1109.5,374.9" stroke="#1a1a1a" stroke-width="1.2" stroke-linecap="round"/>
<path d="M1083.5,377.7 L1105.8,383.7" stroke="#1a1a1a" stroke-width="1.2" stroke-linecap="round"/>
<path d="M1080.9,381.3 L1095.6,391.1" stroke="#1a1a1a" stroke-width="1.2" stroke-linecap="round"/>
<path d="M1035.0,525.0 L1122.9,375.3 L1137.0,358.0 L1153.9,375.3 Q1184.9,376.6 1211.6,387.6 L1240.0,380.0 L1236.4,400.6 L1185.0,545.0 Z" fill="#7f7f7f" stroke="#1a1a1a" stroke-width="1.6" stroke-linejoin="round"/>
<path d="M1137.0,365.3 L1142.3,361.2 L1148.5,369.9 Z" fill="#1a1a1a"/>
<path d="M1233.8,386.0 L1232.9,380.6 L1220.6,385.3 Z" fill="#1a1a1a"/>
<ellipse cx="1135.4" cy="410.2" rx="10.3" ry="9.0" fill="#f2b6ae"/>
<ellipse cx="1199.3" cy="423.8" rx="10.3" ry="9.0" fill="#f2b6ae"/>
<path d="M1150.3,397.6 Q1153.7,402.5 1160.6,399.8" fill="none" stroke="#1a1a1a" stroke-width="1.4" stroke-linecap="round"/>
<path d="M1188.4,405.7 Q1191.8,410.7 1198.7,407.9" fill="none" stroke="#1a1a1a" stroke-width="1.4" stroke-linecap="round"/>
<ellipse cx="1171.0" cy="411.5" rx="3.7" ry="2.6" fill="#1a1a1a"/>
<path d="M1171.0,411.5 L1159.7,423.7" stroke="#1a1a1a" stroke-width="1.3" stroke-linecap="round"/>
<path d="M1120.1,409.0 L1095.7,393.3" stroke="#1a1a1a" stroke-width="1.2" stroke-linecap="round"/>
<path d="M1116.4,414.5 L1086.4,406.0" stroke="#1a1a1a" stroke-width="1.2" stroke-linecap="round"/>
<path d="M1113.7,420.2 L1085.3,420.5" stroke="#1a1a1a" stroke-width="1.2" stroke-linecap="round"/>
<path d="M1210.4,431.4 L1244.4,431.3" stroke="#1a1a1a" stroke-width="1.2" stroke-linecap="round"/>
<path d="M1208.8,437.4 L1241.3,445.4" stroke="#1a1a1a" stroke-width="1.2" stroke-linecap="round"/>
<path d="M1206.1,443.1 L1228.9,457.4" stroke="#1a1a1a" stroke-width="1.2" stroke-linecap="round"/>
<path d="M1217.0,359.0 L1232.0,347.0 L1251.0,333.0 L1320.0,341.0 L1388.0,364.0 L1355.0,420.0 L1340.0,480.0 L1215.0,480.0 L1224.0,378.0 Z" fill="#161616" stroke="#1a1a1a" stroke-width="1.5" stroke-linejoin="round"/>
<ellipse cx="1278" cy="352" rx="12" ry="9" fill="#f0b2aa"/><ellipse cx="1348" cy="373" rx="12" ry="9" fill="#f0b2aa"/>
<path d="M1297,357 q4,9 11,4 q3,10 12,4" fill="none" stroke="#eee" stroke-width="1.8" stroke-linecap="round"/>
<path d="M1291,342 q3,4 7,2 M1347,358 q3,4 7,2" fill="none" stroke="#ddd" stroke-width="1.4" stroke-linecap="round"/>
<path d="M1388.0,364.0 L1413.0,375.0 L1379.0,403.0 L1356.0,419.0 Z" fill="#f0bd7c" stroke="#1a1a1a" stroke-width="1.5" stroke-linejoin="round"/>
<path d="M1376.5,377.0 l26,10" stroke="#1a1a1a" stroke-width="1.2"/>
<path d="M1369.0,390.0 l26,10" stroke="#1a1a1a" stroke-width="1.2"/>
<path d="M1361.5,403.0 l26,10" stroke="#1a1a1a" stroke-width="1.2"/>
<path d="M850.0,420.0 L933.8,365.0 L948.0,358.0 L956.7,370.2 Q978.1,374.3 994.8,383.7 L1016.0,382.0 L1011.6,395.6 L969.0,476.0 Z" fill="#efecca" stroke="#1a1a1a" stroke-width="1.6" stroke-linejoin="round"/>
<path d="M927.7,368.5 L948.0,358.0 L956.7,370.2 L953.9,381.2 L932.1,380.6 Z" fill="#aaa6a4" stroke="#1a1a1a" stroke-width="1.2" stroke-linejoin="round"/>
<path d="M990.2,382.8 L1016.0,382.0 L1006.6,396.3 L988.3,394.8 Z" fill="#aaa6a4" stroke="#1a1a1a" stroke-width="1.2" stroke-linejoin="round"/>
<path d="M946.7,362.5 L951.1,360.5 L953.8,366.4 Z" fill="#1a1a1a"/>
<path d="M1010.6,385.0 L1011.0,381.6 L1001.4,383.2 Z" fill="#1a1a1a"/>
<ellipse cx="937.4" cy="389.5" rx="7.0" ry="6.1" fill="#f4bdb6"/>
<ellipse cx="979.6" cy="404.4" rx="7.0" ry="6.1" fill="#f4bdb6"/>
<ellipse cx="953.0" cy="385.2" rx="6.5" ry="3.2" fill="#fff" stroke="#1a1a1a" stroke-width="1.3" transform="rotate(15 953.0 385.2)"/>
<circle cx="949.4" cy="384.5" r="1.8" fill="#1a1a1a"/>
<ellipse cx="978.2" cy="394.1" rx="6.5" ry="3.2" fill="#fff" stroke="#1a1a1a" stroke-width="1.3" transform="rotate(15 978.2 394.1)"/>
<circle cx="974.6" cy="393.3" r="1.8" fill="#1a1a1a"/>
<ellipse cx="962.1" cy="394.0" rx="2.5" ry="1.8" fill="#1a1a1a"/>
<path d="M962.1,394.0 L951.9,400.3" stroke="#1a1a1a" stroke-width="1.3" stroke-linecap="round"/>
<path d="M926.9,387.3 L912.7,375.2" stroke="#1a1a1a" stroke-width="1.2" stroke-linecap="round"/>
<path d="M923.3,390.2 L903.9,382.0" stroke="#1a1a1a" stroke-width="1.2" stroke-linecap="round"/>
<path d="M920.4,393.4 L900.5,390.6" stroke="#1a1a1a" stroke-width="1.2" stroke-linecap="round"/>
<path d="M986.0,410.2 L1009.8,413.7" stroke="#1a1a1a" stroke-width="1.2" stroke-linecap="round"/>
<path d="M983.8,413.7 L1005.1,421.9" stroke="#1a1a1a" stroke-width="1.2" stroke-linecap="round"/>
<path d="M980.9,416.9 L994.2,427.9" stroke="#1a1a1a" stroke-width="1.2" stroke-linecap="round"/>
<path d="M935.0,527.0 L1037.5,407.1 L1050.0,396.0 L1061.9,409.6 Q1084.6,412.0 1103.9,421.4 L1125.0,417.0 L1123.7,432.8 L1095.0,545.0 Z" fill="#f5b3c3" stroke="#1a1a1a" stroke-width="1.6" stroke-linejoin="round"/>
<path d="M1049.8,401.5 L1053.8,398.6 L1058.0,405.4 Z" fill="#1a1a1a"/>
<path d="M1120.3,421.2 L1119.8,417.1 L1110.5,420.1 Z" fill="#1a1a1a"/>
<ellipse cx="1047.2" cy="434.8" rx="7.6" ry="6.6" fill="#f08c99"/>
<ellipse cx="1093.7" cy="447.8" rx="7.6" ry="6.6" fill="#f08c99"/>
<ellipse cx="1061.9" cy="427.9" rx="7.0" ry="3.5" fill="#fff" stroke="#1a1a1a" stroke-width="1.3" transform="rotate(15 1061.9 427.9)"/>
<circle cx="1058.0" cy="427.1" r="1.9" fill="#1a1a1a"/>
<ellipse cx="1089.7" cy="435.6" rx="7.0" ry="3.5" fill="#fff" stroke="#1a1a1a" stroke-width="1.3" transform="rotate(15 1089.7 435.6)"/>
<circle cx="1085.8" cy="434.9" r="1.9" fill="#1a1a1a"/>
<ellipse cx="1073.3" cy="437.4" rx="2.7" ry="1.9" fill="#1a1a1a"/>
<path d="M1073.3,437.4 L1064.6,446.0" stroke="#1a1a1a" stroke-width="1.3" stroke-linecap="round"/>
<path d="M1036.0,433.3 L1018.5,420.5" stroke="#1a1a1a" stroke-width="1.2" stroke-linecap="round"/>
<path d="M1033.1,437.2 L1011.3,429.5" stroke="#1a1a1a" stroke-width="1.2" stroke-linecap="round"/>
<path d="M1030.9,441.4 L1010.1,440.3" stroke="#1a1a1a" stroke-width="1.2" stroke-linecap="round"/>
<path d="M1101.6,454.0 L1126.6,455.5" stroke="#1a1a1a" stroke-width="1.2" stroke-linecap="round"/>
<path d="M1100.3,458.4 L1123.9,465.8" stroke="#1a1a1a" stroke-width="1.2" stroke-linecap="round"/>
<path d="M1098.1,462.6 L1114.4,474.3" stroke="#1a1a1a" stroke-width="1.2" stroke-linecap="round"/>
<path d="M1185.0,505.0 L1284.7,408.2 L1300.0,397.0 L1312.4,411.9 Q1338.3,414.9 1359.5,425.3 L1384.0,421.0 L1381.3,438.4 L1345.0,545.0 Z" fill="#ece8c6" stroke="#1a1a1a" stroke-width="1.6" stroke-linejoin="round"/>
<path d="M1299.3,402.9 L1304.1,399.9 L1308.4,407.3 Z" fill="#1a1a1a"/>
<path d="M1378.2,425.5 L1378.0,421.0 L1367.2,424.1 Z" fill="#1a1a1a"/>
<ellipse cx="1293.6" cy="438.8" rx="8.5" ry="7.4" fill="#f4bdb6"/>
<ellipse cx="1345.6" cy="453.7" rx="8.5" ry="7.4" fill="#f4bdb6"/>
<path d="M1307.3,429.6 Q1309.6,433.8 1315.7,432.0" fill="none" stroke="#1a1a1a" stroke-width="1.4" stroke-linecap="round"/>
<path d="M1338.3,438.5 Q1340.7,442.7 1346.7,440.9" fill="none" stroke="#1a1a1a" stroke-width="1.4" stroke-linecap="round"/>
<ellipse cx="1323.2" cy="442.0" rx="3.1" ry="2.2" fill="#1a1a1a"/>
<path d="M1323.2,442.0 L1312.5,451.2" stroke="#1a1a1a" stroke-width="1.3" stroke-linecap="round"/>
<path d="M1280.9,436.9 L1262.0,422.8" stroke="#1a1a1a" stroke-width="1.2" stroke-linecap="round"/>
<path d="M1277.3,441.1 L1253.0,432.4" stroke="#1a1a1a" stroke-width="1.2" stroke-linecap="round"/>
<path d="M1274.5,445.5 L1250.7,444.0" stroke="#1a1a1a" stroke-width="1.2" stroke-linecap="round"/>
<path d="M1354.2,460.5 L1382.7,462.5" stroke="#1a1a1a" stroke-width="1.2" stroke-linecap="round"/>
<path d="M1352.3,465.2 L1378.7,473.6" stroke="#1a1a1a" stroke-width="1.2" stroke-linecap="round"/>
<path d="M1349.5,469.6 L1367.2,482.5" stroke="#1a1a1a" stroke-width="1.2" stroke-linecap="round"/>
<path d="M1343.0,560.0 L1434.6,452.8 L1448.0,441.0 L1461.2,455.7 Q1485.3,458.1 1506.0,468.0 L1528.0,463.0 L1528.4,480.1 L1510.0,610.0 Z" fill="#f2f2f2" stroke="#1a1a1a" stroke-width="1.6" stroke-linejoin="round"/>
<path d="M1448.0,447.0 L1452.1,443.8 L1456.9,451.1 Z" fill="#1a1a1a"/>
<path d="M1523.2,467.6 L1522.5,463.2 L1512.9,466.5 Z" fill="#1a1a1a"/>
<ellipse cx="1447.0" cy="483.2" rx="8.1" ry="7.1" fill="#f4b8b0"/>
<ellipse cx="1496.6" cy="496.9" rx="8.1" ry="7.1" fill="#f4b8b0"/>
<path d="M1458.5,473.6 Q1461.1,477.8 1466.5,475.8" fill="none" stroke="#1a1a1a" stroke-width="1.4" stroke-linecap="round"/>
<path d="M1488.1,481.8 Q1490.7,485.9 1496.1,484.0" fill="none" stroke="#1a1a1a" stroke-width="1.4" stroke-linecap="round"/>
<ellipse cx="1474.6" cy="485.7" rx="2.9" ry="2.1" fill="#1a1a1a"/>
<path d="M1474.6,485.7 L1465.9,495.2" stroke="#1a1a1a" stroke-width="1.3" stroke-linecap="round"/>
<path d="M1435.1,481.7 L1416.1,467.9" stroke="#1a1a1a" stroke-width="1.2" stroke-linecap="round"/>
<path d="M1432.3,486.0 L1409.0,477.9" stroke="#1a1a1a" stroke-width="1.2" stroke-linecap="round"/>
<path d="M1430.2,490.5 L1408.2,489.6" stroke="#1a1a1a" stroke-width="1.2" stroke-linecap="round"/>
<path d="M1505.3,503.5 L1531.7,504.8" stroke="#1a1a1a" stroke-width="1.2" stroke-linecap="round"/>
<path d="M1504.1,508.3 L1529.3,516.1" stroke="#1a1a1a" stroke-width="1.2" stroke-linecap="round"/>
<path d="M1502.0,512.8 L1519.7,525.4" stroke="#1a1a1a" stroke-width="1.2" stroke-linecap="round"/>
<path d="M1085.0,540.0 L1188.6,455.9 L1203.0,447.0 L1213.9,460.6 Q1236.7,463.7 1255.4,473.5 L1277.0,470.0 L1275.8,485.8 L1248.0,600.0 Z" fill="#f3f3f3" stroke="#1a1a1a" stroke-width="1.6" stroke-linejoin="round"/>
<path d="M1185.3,461.1 L1203.0,447.0 L1213.9,460.6 L1213.6,472.3 L1191.0,473.1 Z" fill="#9e9a99" stroke="#1a1a1a" stroke-width="1.2" stroke-linejoin="round"/>
<path d="M1250.5,472.7 L1277.0,470.0 L1269.6,487.3 L1250.5,486.9 Z" fill="#9e9a99" stroke="#1a1a1a" stroke-width="1.2" stroke-linejoin="round"/>
<path d="M1202.3,452.3 L1206.6,449.7 L1210.4,456.4 Z" fill="#1a1a1a"/>
<path d="M1271.9,473.9 L1271.7,469.9 L1262.2,472.5 Z" fill="#1a1a1a"/>
<ellipse cx="1197.2" cy="484.4" rx="7.6" ry="6.6" fill="#f4bdb6"/>
<ellipse cx="1243.1" cy="498.7" rx="7.6" ry="6.6" fill="#f4bdb6"/>
<ellipse cx="1212.6" cy="478.2" rx="7.0" ry="3.5" fill="#fff" stroke="#1a1a1a" stroke-width="1.3" transform="rotate(15 1212.6 478.2)"/>
<circle cx="1208.7" cy="477.4" r="1.9" fill="#1a1a1a"/>
<ellipse cx="1239.9" cy="486.7" rx="7.0" ry="3.5" fill="#fff" stroke="#1a1a1a" stroke-width="1.3" transform="rotate(15 1239.9 486.7)"/>
<circle cx="1236.1" cy="485.9" r="1.9" fill="#1a1a1a"/>
<ellipse cx="1223.3" cy="487.8" rx="2.7" ry="1.9" fill="#1a1a1a"/>
<path d="M1223.3,487.8 L1213.9,495.9" stroke="#1a1a1a" stroke-width="1.3" stroke-linecap="round"/>
<path d="M1186.0,482.5 L1169.4,469.5" stroke="#1a1a1a" stroke-width="1.2" stroke-linecap="round"/>
<path d="M1182.8,486.2 L1161.4,478.0" stroke="#1a1a1a" stroke-width="1.2" stroke-linecap="round"/>
<path d="M1180.3,490.1 L1159.3,488.3" stroke="#1a1a1a" stroke-width="1.2" stroke-linecap="round"/>
<path d="M1250.6,504.9 L1275.7,507.2" stroke="#1a1a1a" stroke-width="1.2" stroke-linecap="round"/>
<path d="M1248.9,509.1 L1272.1,517.1" stroke="#1a1a1a" stroke-width="1.2" stroke-linecap="round"/>
<path d="M1246.4,513.0 L1261.9,524.9" stroke="#1a1a1a" stroke-width="1.2" stroke-linecap="round"/>
<path d="M985.0,585.0 L1037.2,510.2 L1050.0,497.0 L1063.6,513.0 Q1088.6,516.3 1110.0,527.6 L1133.0,523.0 L1131.7,540.7 L1110.0,625.0 Z" fill="#141414" stroke="#1a1a1a" stroke-width="1.6" stroke-linejoin="round"/>
<path d="M1050.0,503.3 L1054.3,500.1 L1059.2,508.0 Z" fill="#f4f4f4"/>
<path d="M1128.0,527.8 L1127.3,523.0 L1117.3,526.2 Z" fill="#f4f4f4"/>
<ellipse cx="1048.5" cy="541.7" rx="8.5" ry="7.4" fill="#f0a8a0"/>
<ellipse cx="1100.0" cy="557.9" rx="8.5" ry="7.4" fill="#f0a8a0"/>
<path d="M1060.6,532.0 Q1063.3,536.4 1068.9,534.6" fill="none" stroke="#ddd" stroke-width="1.4" stroke-linecap="round"/>
<path d="M1091.3,541.6 Q1094.0,546.0 1099.6,544.2" fill="none" stroke="#ddd" stroke-width="1.4" stroke-linecap="round"/>
<ellipse cx="1077.2" cy="545.3" rx="3.0" ry="2.2" fill="#ddd"/>
<path d="M1077.2,545.3 L1068.0,555.1" stroke="#ddd" stroke-width="1.3" stroke-linecap="round"/>
<path d="M1165.0,665.0 L1323.8,495.8 L1337.0,485.0 L1348.5,498.4 Q1371.8,500.9 1391.1,510.2 L1413.0,506.0 L1410.5,521.7 L1350.0,705.0 Z" fill="#8d8883" stroke="#1a1a1a" stroke-width="1.6" stroke-linejoin="round"/>
<path d="M1336.5,490.4 L1340.8,487.6 L1344.8,494.3 Z" fill="#1a1a1a"/>
<path d="M1407.9,510.1 L1407.6,506.1 L1398.0,509.0 Z" fill="#1a1a1a"/>
<ellipse cx="1332.1" cy="523.1" rx="7.7" ry="6.7" fill="#f3b3aa"/>
<ellipse cx="1379.2" cy="536.1" rx="7.7" ry="6.7" fill="#f3b3aa"/>
<path d="M1344.2,514.6 Q1346.4,518.4 1351.8,516.7" fill="none" stroke="#1a1a1a" stroke-width="1.4" stroke-linecap="round"/>
<path d="M1372.3,522.4 Q1374.5,526.2 1379.9,524.5" fill="none" stroke="#1a1a1a" stroke-width="1.4" stroke-linecap="round"/>
<ellipse cx="1358.8" cy="525.8" rx="2.8" ry="2.0" fill="#1a1a1a"/>
<path d="M1358.8,525.8 L1349.4,534.2" stroke="#1a1a1a" stroke-width="1.3" stroke-linecap="round"/>
<path d="M1320.7,521.5 L1303.4,508.9" stroke="#1a1a1a" stroke-width="1.2" stroke-linecap="round"/>
<path d="M1317.5,525.4 L1295.5,517.7" stroke="#1a1a1a" stroke-width="1.2" stroke-linecap="round"/>
<path d="M1315.1,529.5 L1293.7,528.3" stroke="#1a1a1a" stroke-width="1.2" stroke-linecap="round"/>
<path d="M1387.1,542.3 L1412.7,543.8" stroke="#1a1a1a" stroke-width="1.2" stroke-linecap="round"/>
<path d="M1385.5,546.5 L1409.4,553.9" stroke="#1a1a1a" stroke-width="1.2" stroke-linecap="round"/>
<path d="M1383.0,550.6 L1399.2,562.2" stroke="#1a1a1a" stroke-width="1.2" stroke-linecap="round"/>
<path d="M1110.0,606.0 L1182.7,554.6 L1197.0,547.0 L1207.2,560.1 Q1228.8,563.5 1246.4,573.0 L1267.0,570.0 L1266.6,585.2 L1247.0,688.0 Z" fill="#f2f2f2" stroke="#1a1a1a" stroke-width="1.6" stroke-linejoin="round"/>
<path d="M1196.3,552.0 L1200.4,549.6 L1203.9,556.0 Z" fill="#1a1a1a"/>
<path d="M1262.1,573.6 L1262.0,569.9 L1252.9,572.1 Z" fill="#1a1a1a"/>
<ellipse cx="1191.1" cy="582.6" rx="7.2" ry="6.3" fill="#f4b8b0"/>
<ellipse cx="1234.5" cy="596.8" rx="7.2" ry="6.3" fill="#f4b8b0"/>
<ellipse cx="1205.8" cy="576.9" rx="6.6" ry="3.3" fill="#fff" stroke="#1a1a1a" stroke-width="1.3" transform="rotate(15 1205.8 576.9)"/>
<circle cx="1202.1" cy="576.2" r="1.8" fill="#1a1a1a"/>
<ellipse cx="1231.7" cy="585.4" rx="6.6" ry="3.3" fill="#fff" stroke="#1a1a1a" stroke-width="1.3" transform="rotate(15 1231.7 585.4)"/>
<circle cx="1228.0" cy="584.7" r="1.8" fill="#1a1a1a"/>
<ellipse cx="1215.9" cy="586.2" rx="2.6" ry="1.8" fill="#1a1a1a"/>
<path d="M1215.9,586.2 L1206.8,593.8" stroke="#1a1a1a" stroke-width="1.3" stroke-linecap="round"/>
<path d="M1180.5,580.6 L1164.9,568.0" stroke="#1a1a1a" stroke-width="1.2" stroke-linecap="round"/>
<path d="M1177.4,584.1 L1157.2,576.0" stroke="#1a1a1a" stroke-width="1.2" stroke-linecap="round"/>
<path d="M1175.0,587.8 L1155.1,585.8" stroke="#1a1a1a" stroke-width="1.2" stroke-linecap="round"/>
<path d="M1241.6,602.9 L1265.4,605.5" stroke="#1a1a1a" stroke-width="1.2" stroke-linecap="round"/>
<path d="M1239.9,606.9 L1261.9,614.9" stroke="#1a1a1a" stroke-width="1.2" stroke-linecap="round"/>
<path d="M1237.5,610.6 L1252.1,622.2" stroke="#1a1a1a" stroke-width="1.2" stroke-linecap="round"/>
<path d="M1510.0,533.0 L1455.0,537.0 L1440.0,548.0 L1383.0,600.0 L1372.0,690.0 L1360.0,722.0 L1358.0,738.0 L1366.0,753.0 L1390.0,759.0 L1411.0,751.0 L1418.0,728.0 L1445.0,695.0 L1478.0,655.0 L1510.0,610.0 Z" fill="#151515" stroke="#1a1a1a" stroke-width="1.5" stroke-linejoin="round"/>
<circle cx="1443.0" cy="580.0" r="9.0" fill="#f0aea4"/>
<path d="M1467,566 q5,-5 10,0 M1485,585 q4,-4 8,0" fill="none" stroke="#eee" stroke-width="2.2" stroke-linecap="round"/>
<path d="M1262.0,715.0 L1303.3,623.2 L1317.0,603.0 L1335.4,621.9 Q1369.9,623.4 1399.3,635.3 L1431.0,627.0 L1424.2,648.7 L1372.0,748.0 Z" fill="#ebe7c4" stroke="#1a1a1a" stroke-width="1.6" stroke-linejoin="round"/>
<path d="M1316.8,611.0 L1322.8,606.5 L1329.5,616.0 Z" fill="#1a1a1a"/>
<path d="M1424.0,633.6 L1423.1,627.7 L1409.3,632.8 Z" fill="#1a1a1a"/>
<ellipse cx="1314.2" cy="660.1" rx="11.4" ry="9.9" fill="#f3b2ac"/>
<ellipse cx="1384.9" cy="675.0" rx="11.4" ry="9.9" fill="#f3b2ac"/>
<path d="M1331.0,646.3 Q1334.6,651.7 1342.4,648.7" fill="none" stroke="#1a1a1a" stroke-width="1.4" stroke-linecap="round"/>
<path d="M1373.2,655.2 Q1376.8,660.6 1384.6,657.6" fill="none" stroke="#1a1a1a" stroke-width="1.4" stroke-linecap="round"/>
<ellipse cx="1353.7" cy="661.5" rx="4.1" ry="2.9" fill="#1a1a1a"/>
<path d="M1353.7,661.5 L1340.9,675.0" stroke="#1a1a1a" stroke-width="1.3" stroke-linecap="round"/>
<path d="M1297.2,658.9 L1270.4,641.7" stroke="#1a1a1a" stroke-width="1.2" stroke-linecap="round"/>
<path d="M1293.0,664.9 L1259.8,655.6" stroke="#1a1a1a" stroke-width="1.2" stroke-linecap="round"/>
<path d="M1289.9,671.2 L1258.4,671.4" stroke="#1a1a1a" stroke-width="1.2" stroke-linecap="round"/>
<path d="M1397.1,683.4 L1434.9,683.2" stroke="#1a1a1a" stroke-width="1.2" stroke-linecap="round"/>
<path d="M1395.2,689.9 L1431.2,698.6" stroke="#1a1a1a" stroke-width="1.2" stroke-linecap="round"/>
<path d="M1392.1,696.2 L1417.2,711.8" stroke="#1a1a1a" stroke-width="1.2" stroke-linecap="round"/>
<path d="M1415.0,725.0 L1472.7,656.2 L1483.0,647.0 L1492.7,658.1 Q1511.6,660.1 1527.5,667.7 L1545.0,664.0 L1543.7,677.0 L1510.0,800.0 Z" fill="#f1f1f1" stroke="#1a1a1a" stroke-width="1.6" stroke-linejoin="round"/>
<path d="M1482.8,651.5 L1486.1,649.2 L1489.6,654.7 Z" fill="#1a1a1a"/>
<path d="M1541.0,667.5 L1540.7,664.1 L1533.0,666.6 Z" fill="#1a1a1a"/>
<ellipse cx="1480.4" cy="678.8" rx="6.3" ry="5.5" fill="#f4aaa2"/>
<ellipse cx="1518.9" cy="689.4" rx="6.3" ry="5.5" fill="#f4aaa2"/>
<path d="M1489.9,671.7 Q1491.8,674.8 1496.1,673.4" fill="none" stroke="#1a1a1a" stroke-width="1.4" stroke-linecap="round"/>
<path d="M1512.8,678.0 Q1514.7,681.1 1519.0,679.7" fill="none" stroke="#1a1a1a" stroke-width="1.4" stroke-linecap="round"/>
<ellipse cx="1502.1" cy="680.9" rx="2.3" ry="1.6" fill="#1a1a1a"/>
<path d="M1502.1,680.9 L1494.8,688.0" stroke="#1a1a1a" stroke-width="1.3" stroke-linecap="round"/>
<path d="M1471.2,677.6 L1456.8,667.2" stroke="#1a1a1a" stroke-width="1.2" stroke-linecap="round"/>
<path d="M1468.7,680.8 L1450.7,674.6" stroke="#1a1a1a" stroke-width="1.2" stroke-linecap="round"/>
<path d="M1466.9,684.3 L1449.6,683.4" stroke="#1a1a1a" stroke-width="1.2" stroke-linecap="round"/>
<path d="M1525.4,694.4 L1546.1,695.6" stroke="#1a1a1a" stroke-width="1.2" stroke-linecap="round"/>
<path d="M1524.3,698.0 L1543.8,704.0" stroke="#1a1a1a" stroke-width="1.2" stroke-linecap="round"/>
<path d="M1522.5,701.4 L1535.9,711.0" stroke="#1a1a1a" stroke-width="1.2" stroke-linecap="round"/>
<path d="M1275.0,745.0 L1303.5,706.1 L1313.0,697.0 L1322.8,708.6 Q1340.5,711.0 1355.8,719.2 L1372.0,716.0 L1371.9,728.8 L1362.0,780.0 Z" fill="#f1f1f1" stroke="#1a1a1a" stroke-width="1.6" stroke-linejoin="round"/>
<path d="M1313.0,701.5 L1316.0,699.3 L1319.6,705.0 Z" fill="#1a1a1a"/>
<path d="M1368.5,719.4 L1368.0,716.0 L1360.9,718.3 Z" fill="#1a1a1a"/>
<ellipse cx="1312.4" cy="729.2" rx="6.1" ry="5.3" fill="#f4b8b0"/>
<ellipse cx="1349.0" cy="741.0" rx="6.1" ry="5.3" fill="#f4b8b0"/>
<path d="M1320.8,722.2 Q1322.8,725.4 1326.7,724.1" fill="none" stroke="#1a1a1a" stroke-width="1.4" stroke-linecap="round"/>
<path d="M1342.7,729.2 Q1344.6,732.4 1348.6,731.1" fill="none" stroke="#1a1a1a" stroke-width="1.4" stroke-linecap="round"/>
<ellipse cx="1332.8" cy="731.9" rx="2.2" ry="1.5" fill="#1a1a1a"/>
<path d="M1332.8,731.9 L1326.3,738.9" stroke="#1a1a1a" stroke-width="1.3" stroke-linecap="round"/>
<path d="M1205.0,667.0 L1235.0,655.0 L1264.0,653.0 L1250.0,692.0 L1232.0,692.0 Z" fill="#f2a7b9" stroke="#1a1a1a" stroke-width="1.5" stroke-linejoin="round"/>
<path d="M1226.0,676.0 L1246.0,664.0 L1243.0,684.0 Z" fill="#1a1a1a" stroke="none" stroke-width="1.5" stroke-linejoin="round"/>
<path d="M1164.0,632.0 L1172.0,617.0 L1184.0,642.0 Z" fill="#f2a7b9" stroke="#1a1a1a" stroke-width="1.5" stroke-linejoin="round"/>
<path d="M1436.0,790.0 L1478.0,745.0 L1510.0,758.0 L1510.0,810.0 L1436.0,800.0 Z" fill="#f1f1f1" stroke="#1a1a1a" stroke-width="1.5" stroke-linejoin="round"/>
<rect x="470" y="300" width="1040" height="520" filter="url(#fGrain)" opacity="0.5"/>
</g>
<path d="M520.0,317.0 C526.7,317.8 546.7,320.0 560.0,322.0 C573.3,324.0 586.7,326.2 600.0,329.0 C613.3,331.8 626.7,335.0 640.0,338.5 C653.3,342.0 663.3,344.4 680.0,350.0 C696.7,355.6 720.0,364.0 740.0,372.0 C760.0,380.0 778.0,387.5 800.0,398.0 C822.0,408.5 847.8,421.0 872.0,435.0 C896.2,449.0 923.7,468.0 945.0,482.0 C966.3,496.0 982.5,507.3 1000.0,519.0 C1017.5,530.7 1029.5,537.7 1050.0,552.0 C1070.5,566.3 1098.8,586.2 1123.0,605.0 C1147.2,623.8 1173.8,648.2 1195.0,665.0 C1216.2,681.8 1232.5,693.5 1250.0,706.0 C1267.5,718.5 1288.0,732.3 1300.0,740.0 C1312.0,747.7 1306.2,744.7 1322.0,752.0 C1337.8,759.3 1373.7,775.8 1395.0,784.0 C1416.3,792.2 1432.5,796.7 1450.0,801.0 C1467.5,805.3 1490.0,808.3 1500.0,810.0 C1510.0,811.7 1508.3,810.8 1510.0,811.0" fill="none" stroke="#f3f2f0" stroke-width="17" clip-path="url(#cpFabric)"/>
<circle cx="398.0" cy="441.0" r="28" fill="#3ccdbe" fill-opacity="0.5"/><circle cx="398.0" cy="441.0" r="18" fill="#33c6b6"/>
<circle cx="270.4" cy="592.0" r="28" fill="#3ccdbe" fill-opacity="0.5"/><circle cx="270.4" cy="592.0" r="18" fill="#33c6b6"/>
<circle cx="1163.3" cy="327.0" r="28" fill="#3ccdbe" fill-opacity="0.5"/><circle cx="1163.3" cy="327.0" r="18" fill="#33c6b6"/>
<circle cx="889.5" cy="1034.5" r="28" fill="#3ccdbe" fill-opacity="0.5"/><circle cx="889.5" cy="1034.5" r="18" fill="#33c6b6"/>
<path d="M397.5,423.6 L397.5,192.0" stroke="#3fb4ae" stroke-width="4" stroke-dasharray="14.2 8.3" fill="none"/>
<path d="M270.3,1125.0 L270.3,608.0" stroke="#3fb4ae" stroke-width="4" stroke-dasharray="14.2 8.3" fill="none"/>
<path d="M1163.3,167.5 L1163.3,312.0" stroke="#3fb4ae" stroke-width="4" stroke-dasharray="14.2 8.3" fill="none"/>
<path d="M889.5,1231.0 L889.5,1052.0" stroke="#3fb4ae" stroke-width="4" stroke-dasharray="14.2 8.3" fill="none"/>
</svg>
<div class="pill" style="left:134px;top:97px;width:530px;height:92px;font-size:38.4px;line-height:82px"><span style="left:22.0px;top:-1px">Regenerated sponge layer</span></div>
<div class="pill" style="left:884px;top:71px;width:558px;height:90px;font-size:38.6px;line-height:80px"><span style="left:17.0px;top:-1px">Nappa leather fabric surface</span></div>
<div class="pill" style="left:42px;top:1128px;width:458px;height:92px;font-size:40.0px;line-height:82px"><span style="left:20.0px;top:-1px">Foam absorbent layer</span></div>
<div class="pill" style="left:650px;top:1234px;width:478px;height:91px;font-size:39.8px;line-height:81px"><span style="left:20.5px;top:-3px">Non-slip rubber bottom</span></div>
<div class="cap" style="left:251px;top:60px">Soft and comfortable</div>
<div class="cap" style="left:894px;top:2px;font-size:32.4px">Rapid penetration of mois-ture does<br>not accumulate</div>
<div class="cap" style="left:55px;top:1234px;font-size:32.3px">Absorb instantly and evaporate<br>quickly</div>
<div class="cap" style="left:677px;top:1342px">Anti-slip texture for firm grip</div>
</body></html>
